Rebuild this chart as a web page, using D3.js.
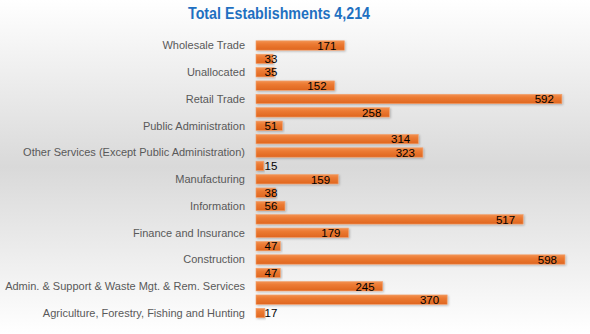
<!DOCTYPE html>
<html><head><meta charset="utf-8">
<script src="https://cdn.jsdelivr.net/npm/d3@7"></script>
<style>html,body{margin:0;padding:0;background:#fff}svg{display:block}</style>
</head><body>
<svg id="c" width="590" height="334"></svg>
<script>
const title = "Total Establishments 4,214";
const categories = [
  "Wholesale Trade","Utilities","Unallocated","Transportation and Warehousing","Retail Trade",
  "Real Estate and Rental and Leasing","Public Administration","Professional, Scientific, and Technical Services",
  "Other Services (Except Public Administration)","Mining, Quarrying, and Oil and Gas Extraction","Manufacturing",
  "Management of Companies and Enterprises","Information","Health Care and Social Assistance","Finance and Insurance",
  "Educational Services","Construction","Arts, Entertainment, and Recreation",
  "Admin. & Support & Waste Mgt. & Rem. Services","Accommodation and Food Services",
  "Agriculture, Forestry, Fishing and Hunting"
];
const values = [171,33,35,152,592,258,51,314,323,15,159,38,56,517,179,47,598,47,245,370,17];
const xDomain = [0,600];

const svg = d3.select("#c");
const W=590,H=334;
const defs = svg.append("defs");
const bg = defs.append("linearGradient").attr("id","bg").attr("x1",0).attr("y1",0).attr("x2",0).attr("y2",1);
bg.append("stop").attr("offset","0%").attr("stop-color","#ffffff");
bg.append("stop").attr("offset","50%").attr("stop-color","#d9d9d9");
bg.append("stop").attr("offset","100%").attr("stop-color","#ffffff");
const bar = defs.append("linearGradient").attr("id","bar").attr("x1",0).attr("y1",0).attr("x2",0).attr("y2",1);
bar.append("stop").attr("offset","0%").attr("stop-color","#f29152");
bar.append("stop").attr("offset","35%").attr("stop-color","#ec7a32");
bar.append("stop").attr("offset","100%").attr("stop-color","#df6620");
const f = defs.append("filter").attr("id","sh").attr("x","-5%").attr("y","-30%").attr("width","115%").attr("height","180%");
f.append("feDropShadow").attr("dx",1).attr("dy",1).attr("stdDeviation",1).attr("flood-color","#000").attr("flood-opacity",0.25);

svg.append("rect").attr("width",W).attr("height",H).attr("fill","url(#bg)");

svg.append("text").attr("x",279).attr("y",19).attr("text-anchor","middle")
  .attr("font-family","Liberation Sans, Arial, sans-serif").attr("font-weight","bold")
  .attr("font-size",17).attr("fill","#1f70c1")
  .attr("textLength",182).attr("lengthAdjust","spacingAndGlyphs").text(title);

const x = d3.scaleLinear().domain(xDomain).range([256,566]);
const y = d3.scaleBand().domain(categories).range([38.8,319.7]).paddingInner(0.3).paddingOuter(0.15);

const yAxis = d3.axisLeft(y).tickSize(0).tickPadding(0)
  .tickFormat((d,i)=> i%2===0 ? d : "");
const ga = svg.append("g").attr("transform","translate(245,0)").call(yAxis);
ga.select(".domain").remove();
ga.selectAll("text").attr("font-family","Liberation Sans, Arial, sans-serif")
  .attr("font-size",11).attr("fill","#595959").attr("dy","0.35em");

const data = categories.map((c,i)=>({c,v:values[i]}));
svg.append("g").selectAll("rect").data(data).join("rect")
  .attr("x",x(0)).attr("y",d=>y(d.c)).attr("width",d=>x(d.v)-x(0)).attr("height",y.bandwidth())
  .attr("fill","url(#bar)").attr("stroke","#f4a06a").attr("stroke-width",0.6)
  .attr("filter","url(#sh)");

const lab = svg.append("g").selectAll("text").data(data).join("text")
  .attr("font-family","Liberation Sans, Arial, sans-serif").attr("font-size",11.5).attr("fill","#000")
  .attr("y",d=>y(d.c)+y.bandwidth()/2).attr("dy","0.37em")
  .text(d=>d3.format(",")(d.v));
lab.each(function(d){
  const w = this.getComputedTextLength();
  const xs = Math.max(x(d.v)-8-w, 264.5);
  d3.select(this).attr("x",xs);
});
</script>
</body></html>
